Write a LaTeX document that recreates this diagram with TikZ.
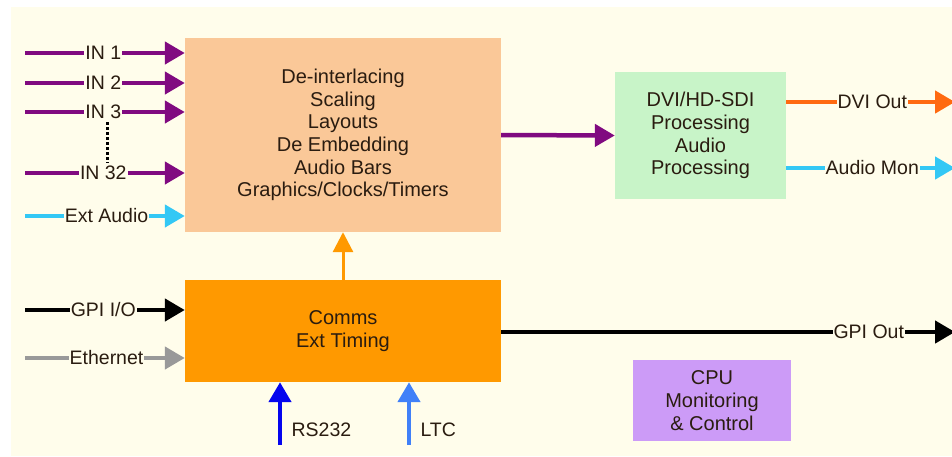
\documentclass[tikz,border=0pt]{standalone}
\usepackage{fontspec}
\setmainfont{Liberation Sans}
\usetikzlibrary{arrows.meta}
\definecolor{bgc}{HTML}{FFFDEB}
\definecolor{peach}{HTML}{FAC898}
\definecolor{orng}{HTML}{FF9900}
\definecolor{grn}{HTML}{C8F4C8}
\definecolor{cpuc}{HTML}{CC9BF7}
\definecolor{purp}{HTML}{800A80}
\definecolor{cyanc}{HTML}{33C8F5}
\definecolor{grayc}{HTML}{999999}
\definecolor{dviorange}{HTML}{FF6A10}
\definecolor{blue1}{HTML}{0505EE}
\definecolor{blue2}{HTML}{4080F8}
\definecolor{txt}{HTML}{2A1C10}
\tikzset{
  box/.style={draw=none, text=txt, align=center, inner sep=0pt, font=\fontsize{20}{22.7}\selectfont},
  conn/.style={line width=4.5pt, -{Triangle[length=20pt,width=22pt]}},
  lbl/.style={fill=bgc, text=txt, inner sep=1pt, font=\fontsize{19.5}{21}\selectfont},
}
\begin{document}
\begin{tikzpicture}[x=1pt,y=-1pt]
\useasboundingbox (0,0) rectangle (952,456);
\fill[bgc] (11,7) rectangle (952,456);
% boxes
\node[box, fill=peach, minimum width=316pt, minimum height=194pt] (big) at (343,135)
  {De-interlacing\\Scaling\\Layouts\\De Embedding\\Audio Bars\\Graphics/Clocks/Timers};
\node[box, fill=orng, minimum width=316pt, minimum height=102pt] (comms) at (343,331)
  {Comms\\Ext Timing};
\node[box, fill=grn, minimum width=171pt, minimum height=127pt] (dvi) at (700.5,135.5)
  {DVI/HD-SDI\\Processing\\Audio\\Processing};
\node[box, fill=cpuc, minimum width=158pt, minimum height=81pt] (cpu) at (712,400.5)
  {CPU\\Monitoring\\\& Control};
% free ends
\coordinate (s1) at (25,53);
\coordinate (s2) at (25,83);
\coordinate (s3) at (25,112);
\coordinate (s32) at (25,173);
\coordinate (sea) at (25,216);
\coordinate (sgpi) at (25,310);
\coordinate (seth) at (25,358);
\coordinate (edvi) at (955,102);
\coordinate (eaud) at (955,168);
\coordinate (egpi) at (955,332);
\coordinate (srs) at (280,445);
\coordinate (sltc) at (409,445);
% inputs
\draw[conn, purp] (s1) -- node[lbl, pos=0.49] {IN 1} (s1 -| big.west);
\draw[conn, purp] (s2) -- node[lbl, pos=0.49] {IN 2} (s2 -| big.west);
\draw[conn, purp] (s3) -- node[lbl, pos=0.49] (l3) {IN 3} (s3 -| big.west);
\draw[conn, purp] (s32) -- node[lbl, pos=0.49] (l32) {IN 32} (s32 -| big.west);
\draw[line width=3pt, dotted, black] ([xshift=4pt]l3.south) -- ([xshift=4pt]l32.north);
\draw[conn, cyanc] (sea) -- node[lbl, pos=0.51] {Ext Audio} (sea -| big.west);
\draw[conn, black] (sgpi) -- node[lbl, pos=0.49] {GPI I/O} (sgpi -| comms.west);
\draw[conn, grayc] (seth) -- node[lbl, pos=0.51] {Ethernet} (seth -| comms.west);
% internal
\draw[conn, purp] (big.east) -- (dvi.west);
\draw[line width=3pt, orng, -{Triangle[length=20pt,width=20pt]}] (comms.north) -- (big.south);
% outputs
\draw[conn, dviorange] (dvi.east |- edvi) -- node[lbl, pos=0.51] {DVI Out} (edvi);
\draw[conn, cyanc] (dvi.east |- eaud) -- node[lbl, pos=0.51] {Audio Mon} (eaud);
\draw[conn, black] (comms.east |- egpi) -- node[lbl, pos=0.81] {GPI Out} (egpi);
% bottom
\draw[conn, blue1] (srs) -- node[pos=0.25, right=6pt, text=txt, font=\fontsize{19.5}{21}\selectfont] {RS232} (srs |- comms.south);
\draw[conn, blue2] (sltc) -- node[pos=0.25, right=6pt, text=txt, font=\fontsize{19.5}{21}\selectfont] {LTC} (sltc |- comms.south);
\end{tikzpicture}
\end{document}
